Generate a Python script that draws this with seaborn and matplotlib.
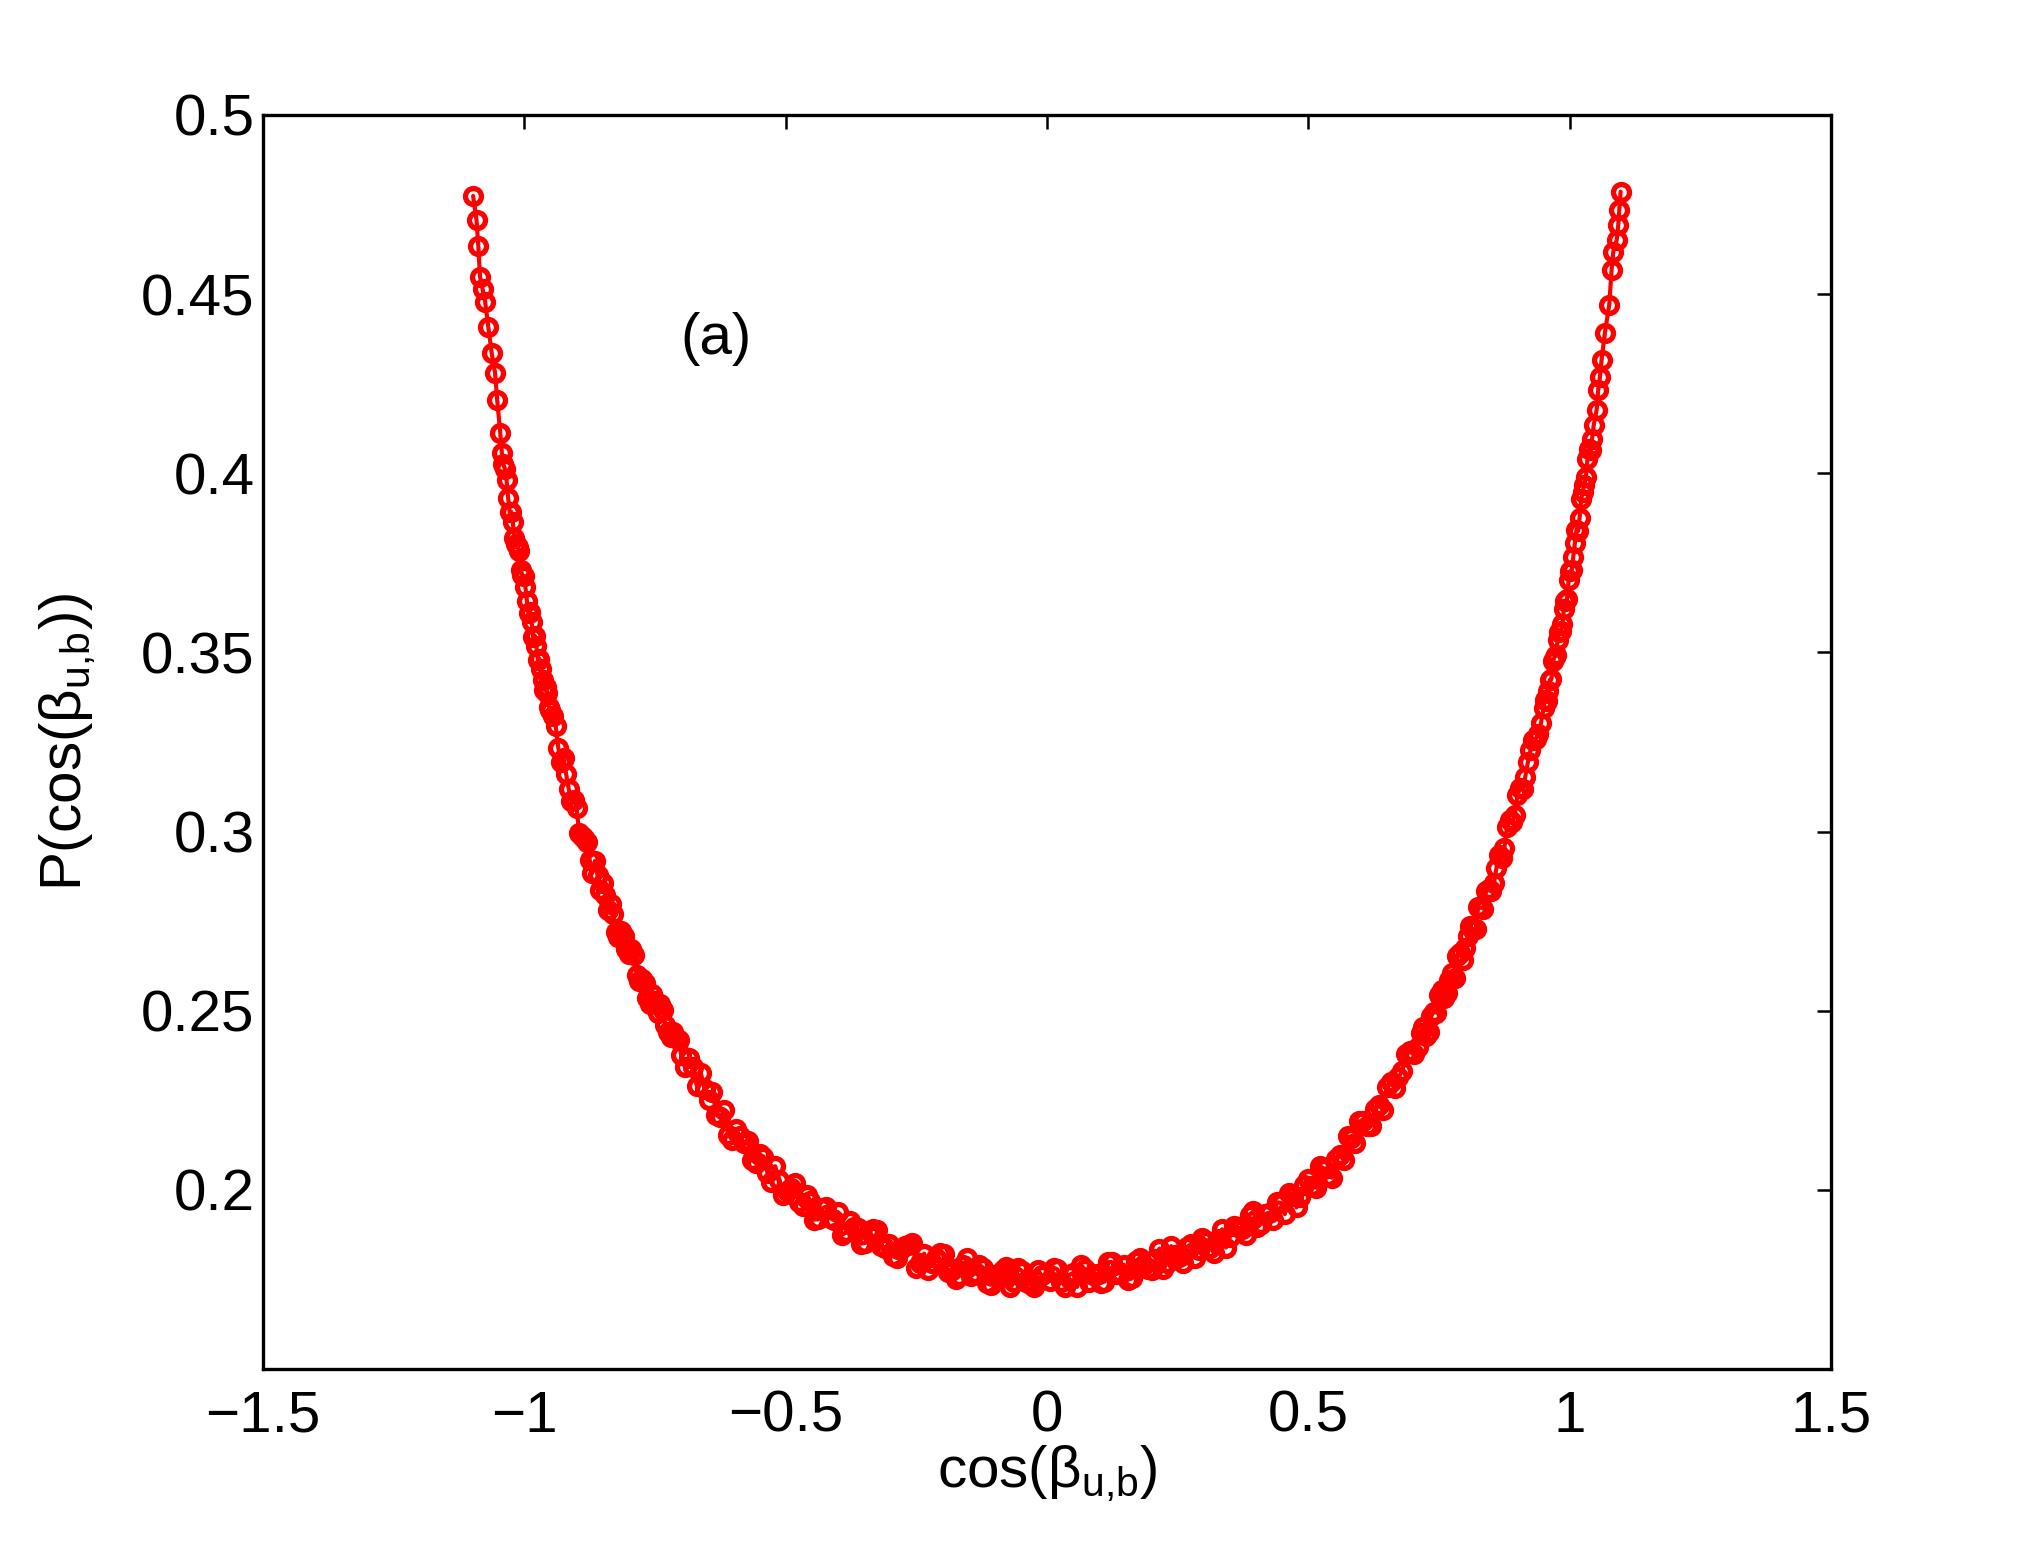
import matplotlib
matplotlib.use("Agg")
import matplotlib.pyplot as plt
import seaborn as sns
import pandas as pd

# ---- data (cos(beta_{u,b}), P(cos(beta_{u,b}))) ----
x_left_end = [-1.098, -1.0915, -1.088, -1.0848, -1.080, -1.075, -1.069, -1.0625, -1.056, -1.052]
p_left_end = [0.4774, 0.4707, 0.4634, 0.4549, 0.4515, 0.4479, 0.4409, 0.4336, 0.4280, 0.4205]

x_left_steep = [-1.046, -1.043, -1.040, -1.037, -1.034, -1.031, -1.028, -1.025, -1.022, -1.019,
                -1.016, -1.013, -1.010, -1.007, -1.004, -1.001, -0.998, -0.995, -0.992, -0.989,
                -0.986, -0.983, -0.980, -0.977, -0.974, -0.971, -0.968, -0.965, -0.962, -0.959,
                -0.956, -0.953, -0.950, -0.945]
p_left_steep = [0.4112, 0.4057, 0.4025, 0.4012, 0.3980, 0.3931, 0.3891, 0.3892, 0.3864, 0.3820,
                0.3802, 0.3794, 0.3783, 0.3730, 0.3715, 0.3713, 0.3683, 0.3643, 0.3609, 0.3612,
                0.3584, 0.3544, 0.3547, 0.3517, 0.3479, 0.3482, 0.3453, 0.3422, 0.3396, 0.3404,
                0.3387, 0.3349, 0.3339, 0.3323]

x_left_mid1 = [-0.94, -0.935, -0.93, -0.925, -0.92, -0.915, -0.91, -0.905, -0.90, -0.895,
               -0.89, -0.885, -0.88, -0.875, -0.87, -0.865, -0.86, -0.855, -0.85, -0.845,
               -0.84, -0.835, -0.83, -0.825, -0.82, -0.815, -0.81, -0.805, -0.80, -0.795,
               -0.79, -0.785, -0.78, -0.775, -0.77, -0.765, -0.76, -0.755, -0.75, -0.745,
               -0.74, -0.735, -0.73, -0.725, -0.72, -0.715, -0.71, -0.705, -0.70]
p_left_mid1 = [0.3295, 0.3234, 0.3195, 0.3204, 0.3160, 0.3118, 0.3086, 0.3087, 0.3067, 0.2995,
               0.2987, 0.2981, 0.2970, 0.2921, 0.2885, 0.2918, 0.2878, 0.2838, 0.2857, 0.2822,
               0.2782, 0.2798, 0.2769, 0.2719, 0.2705, 0.2723, 0.2708, 0.2672, 0.2658, 0.2672,
               0.2656, 0.2600, 0.2582, 0.2589, 0.2576, 0.2536, 0.2518, 0.2546, 0.2527, 0.2495,
               0.2520, 0.2502, 0.2459, 0.2441, 0.2426, 0.2440, 0.2425, 0.2417, 0.2377]

x_left_mid2 = [-0.6925, -0.685, -0.6775, -0.670, -0.6625, -0.655, -0.6475, -0.640, -0.6325, -0.625,
               -0.6175, -0.610, -0.6025, -0.595, -0.5875, -0.580, -0.5725, -0.565, -0.5575, -0.550,
               -0.5425, -0.535, -0.5275, -0.520, -0.5125, -0.505, -0.4975, -0.490, -0.4825, -0.475,
               -0.4675, -0.460, -0.4525, -0.445, -0.4375, -0.430, -0.4225, -0.415, -0.4075, -0.400,
               -0.3925, -0.385, -0.3775, -0.370, -0.3625, -0.355, -0.3475, -0.340, -0.3325, -0.325,
               -0.3175, -0.310, -0.3025, -0.295, -0.2875, -0.280, -0.2725, -0.265, -0.2575, -0.250,
               -0.2425, -0.235, -0.2275, -0.220, -0.2125, -0.205, -0.1975, -0.190, -0.1825, -0.175,
               -0.1675, -0.160, -0.1525, -0.145, -0.1375, -0.130, -0.1225, -0.115, -0.1075, -0.100,
               -0.0925, -0.085, -0.0775, -0.070, -0.0625, -0.055, -0.0475, -0.040, -0.0325, -0.025,
               -0.0175, -0.010]
p_left_mid2 = [0.2344, 0.2367, 0.2342, 0.2290, 0.2327, 0.2282, 0.2252, 0.2274, 0.2210, 0.2203,
               0.2224, 0.2154, 0.2140, 0.2170, 0.2149, 0.2131, 0.2135, 0.2084, 0.2075, 0.2099,
               0.2093, 0.2048, 0.2021, 0.2066, 0.2027, 0.1987, 0.1996, 0.2004, 0.2018, 0.1965,
               0.1954, 0.1985, 0.1970, 0.1917, 0.1918, 0.1949, 0.1953, 0.1921, 0.1916, 0.1938,
               0.1874, 0.1881, 0.1912, 0.1897, 0.1893, 0.1850, 0.1852, 0.1884, 0.1892, 0.1889,
               0.1843, 0.1839, 0.1849, 0.1815, 0.1810, 0.1834, 0.1844, 0.1845, 0.1853, 0.1782,
               0.1796, 0.1822, 0.1777, 0.1795, 0.1809, 0.1824, 0.1820, 0.1771, 0.1780, 0.1751,
               0.1760, 0.1789, 0.1810, 0.1759, 0.1768, 0.1791, 0.1783, 0.1739, 0.1735, 0.1761,
               0.1764, 0.1776, 0.1786, 0.1729, 0.1742, 0.1781, 0.1773, 0.1744, 0.1736, 0.1730,
               0.1776, 0.1761]

x_right_mid2 = [0.005, 0.0125, 0.020, 0.0275, 0.035, 0.0425, 0.050, 0.0575, 0.065, 0.0725,
                0.080, 0.0875, 0.095, 0.1025, 0.110, 0.1175, 0.125, 0.1325, 0.140, 0.1475,
                0.155, 0.1625, 0.170, 0.1775, 0.185, 0.1925, 0.200, 0.2075, 0.215, 0.2225,
                0.230, 0.2375, 0.245, 0.2525, 0.260, 0.2675, 0.275, 0.2825, 0.290, 0.2975,
                0.305, 0.3125, 0.320, 0.3275, 0.335, 0.3425, 0.350, 0.3575, 0.365, 0.3725,
                0.380, 0.3875, 0.395, 0.4025, 0.410, 0.4175, 0.425, 0.4325, 0.440, 0.4475,
                0.455, 0.4625, 0.470, 0.4775, 0.485, 0.4925, 0.500, 0.5075, 0.515, 0.5225,
                0.530, 0.5375, 0.545, 0.5525, 0.560, 0.5675, 0.575, 0.5825, 0.590, 0.5975,
                0.605, 0.6125, 0.620, 0.6275, 0.635, 0.6425, 0.650, 0.6575, 0.665, 0.6725,
                0.680, 0.6875, 0.695, 0.7025]
p_right_mid2 = [0.1746, 0.1783, 0.1778, 0.1744, 0.1730, 0.1763, 0.1768, 0.1729, 0.1789, 0.1778,
                0.1744, 0.1762, 0.1766, 0.1740, 0.1744, 0.1799, 0.1798, 0.1765, 0.1769, 0.1791,
                0.1749, 0.1753, 0.1802, 0.1810, 0.1791, 0.1778, 0.1776, 0.1806, 0.1836, 0.1778,
                0.1796, 0.1843, 0.1819, 0.1813, 0.1795, 0.1840, 0.1848, 0.1811, 0.1833, 0.1866,
                0.1858, 0.1838, 0.1823, 0.1863, 0.1890, 0.1839, 0.1868, 0.1900, 0.1895, 0.1890,
                0.1874, 0.1931, 0.1940, 0.1896, 0.1906, 0.1933, 0.1936, 0.1915, 0.1965, 0.1964,
                0.1932, 0.1992, 0.1982, 0.1951, 0.1980, 0.2013, 0.2029, 0.2010, 0.2006, 0.2066,
                0.2059, 0.2039, 0.2034, 0.2085, 0.2098, 0.2084, 0.2149, 0.2146, 0.2132, 0.2191,
                0.2191, 0.2179, 0.2179, 0.2227, 0.2237, 0.2223, 0.2286, 0.2300, 0.2283, 0.2314,
                0.2333, 0.2378, 0.2387, 0.2378]

x_right_mid1 = [0.71, 0.715, 0.72, 0.725, 0.73, 0.735, 0.74, 0.745, 0.75, 0.755,
                0.76, 0.765, 0.77, 0.775, 0.78, 0.785, 0.79, 0.795, 0.80, 0.805,
                0.81, 0.815, 0.82, 0.825, 0.83, 0.835, 0.84, 0.845, 0.85, 0.855,
                0.86, 0.865, 0.87, 0.875, 0.88, 0.885, 0.89, 0.895, 0.90, 0.905,
                0.91, 0.915, 0.92, 0.925, 0.93, 0.935, 0.94, 0.945]
p_right_mid1 = [0.2399, 0.2439, 0.2454, 0.2429, 0.2441, 0.2485, 0.2497, 0.2495, 0.2543, 0.2557,
                0.2536, 0.2550, 0.2585, 0.2604, 0.2590, 0.2652, 0.2662, 0.2642, 0.2675, 0.2709,
                0.2736, 0.2725, 0.2727, 0.2789, 0.2788, 0.2785, 0.2833, 0.2839, 0.2835, 0.2856,
                0.2899, 0.2935, 0.2926, 0.2954, 0.3012, 0.3031, 0.3026, 0.3046, 0.3101, 0.3121,
                0.3119, 0.3152, 0.3193, 0.3227, 0.3255, 0.3259, 0.3271, 0.3302]

x_right_steep = [0.950, 0.953, 0.956, 0.959, 0.962, 0.965, 0.968, 0.971, 0.974, 0.977,
                 0.980, 0.983, 0.986, 0.989, 0.992, 0.995, 0.998, 1.001, 1.004, 1.007,
                 1.010, 1.013, 1.016, 1.019, 1.022, 1.025, 1.028, 1.031, 1.034, 1.037,
                 1.040, 1.043, 1.046]
p_right_steep = [0.3345, 0.3368, 0.3364, 0.3392, 0.3423, 0.3425, 0.3475, 0.3488, 0.3492, 0.3536,
                 0.3557, 0.3560, 0.3578, 0.3622, 0.3643, 0.3648, 0.3701, 0.3726, 0.3730, 0.3767,
                 0.3806, 0.3843, 0.3839, 0.3876, 0.3928, 0.3948, 0.3968, 0.3989, 0.4039, 0.4067,
                 0.4065, 0.4097, 0.4134]

x_right_end = [1.0516, 1.0546, 1.058, 1.061, 1.0674, 1.0757, 1.0802, 1.0834, 1.090, 1.093, 1.0949, 1.0975]
p_right_end = [0.4177, 0.4233, 0.4270, 0.4316, 0.4392, 0.4470, 0.4567, 0.4618, 0.4651, 0.4693, 0.4735, 0.4786]

x_ticks = [-1.5, -1.0, -0.5, 0.0, 0.5, 1.0, 1.5]
x_tick_labels = ["\u22121.5", "\u22121", "\u22120.5", "0", "0.5", "1", "1.5"]
y_ticks = [0.2, 0.25, 0.3, 0.35, 0.4, 0.45, 0.5]
y_tick_labels = ["0.2", "0.25", "0.3", "0.35", "0.4", "0.45", "0.5"]

panel_label = "(a)"
x_label = r"cos($\mathrm{\beta_{u{,}b}}$)"
y_label = r"P(cos($\mathrm{\beta_{u{,}b}}$))"

# ---- assemble ----
xs = (x_left_end + x_left_steep + x_left_mid1 + x_left_mid2 +
      x_right_mid2 + x_right_mid1 + x_right_steep + x_right_end)
ps = (p_left_end + p_left_steep + p_left_mid1 + p_left_mid2 +
      p_right_mid2 + p_right_mid1 + p_right_steep + p_right_end)
df = pd.DataFrame({"cos": xs, "P": ps})

sns.set_style("white")
plt.rcParams["font.family"] = ["Liberation Sans", "DejaVu Sans"]
plt.rcParams["mathtext.fontset"] = "custom"
plt.rcParams["mathtext.rm"] = "Liberation Sans"
plt.rcParams["mathtext.it"] = "Liberation Sans:italic"
plt.rcParams["mathtext.bf"] = "Liberation Sans:bold"

W, H = 2025, 1542
fig = plt.figure(figsize=(W / 100, H / 100), dpi=100)
fig.patch.set_facecolor("white")
ax = fig.add_axes([263 / W, 1 - 1369 / H, (1831 - 263) / W, (1369 - 115) / H])

sns.lineplot(data=df, x="cos", y="P", ax=ax, sort=True, estimator=None,
             color="#ff0000", linewidth=3.0, marker="o", markersize=11.5,
             markerfacecolor="none", markeredgecolor="#ff0000", markeredgewidth=3.8)

ax.set_xlim(-1.5, 1.5)
ax.set_ylim(0.15, 0.5)
ax.set_xticks(x_ticks)
ax.set_xticklabels(x_tick_labels)
ax.set_yticks(y_ticks)
ax.set_yticklabels(y_tick_labels)

ax.tick_params(axis="both", direction="in", length=10, width=1.8, color="black",
               top=True, right=True, labelsize=42, labelcolor="black")
ax.tick_params(axis="x", pad=15)
ax.tick_params(axis="y", pad=6)

for s in ax.spines.values():
    s.set_visible(True)
    s.set_color("black")
    s.set_linewidth(2.4)

ax.set_xlabel(x_label, fontsize=42, labelpad=0, color="black")
ax.set_ylabel(y_label, fontsize=42, labelpad=32, color="black")

ax.text(-0.633, 0.4376, panel_label, fontsize=42, ha="center", va="center", color="black")

fig.savefig("out.png", dpi=100, facecolor="white")
